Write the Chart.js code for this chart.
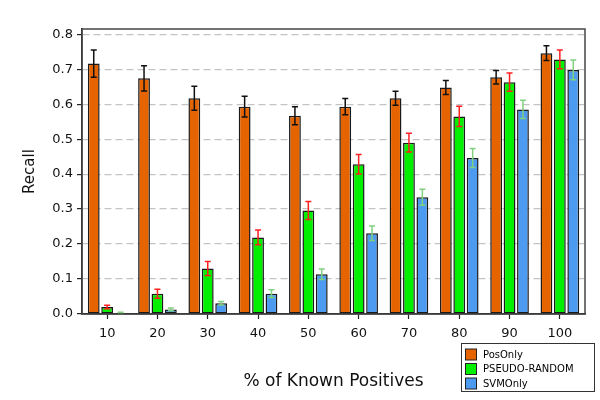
<!DOCTYPE html>
<html><head><meta charset="utf-8">
<script src="https://cdn.jsdelivr.net/npm/chart.js@4"></script>
<style>html,body{margin:0;padding:0;background:#fff}</style>
</head><body>
<canvas id="c" width="600" height="400"></canvas>
<script>
const categories = ['10','20','30','40','50','60','70','80','90','100'];
const posOnly      = [0.716,0.674,0.617,0.593,0.567,0.593,0.617,0.648,0.677,0.746];
const posOnlyErr   = [0.039,0.036,0.034,0.030,0.026,0.023,0.020,0.020,0.019,0.021];
const pseudoRandom = [0.020,0.058,0.130,0.219,0.296,0.428,0.490,0.565,0.663,0.728];
const pseudoErr    = [0.005,0.013,0.020,0.021,0.026,0.028,0.027,0.029,0.026,0.027];
const svmOnly      = [0.003,0.013,0.031,0.058,0.114,0.231,0.334,0.446,0.585,0.698];
const svmErr       = [0.002,0.004,0.005,0.011,0.015,0.021,0.023,0.027,0.026,0.028];
const seriesNames  = ['PosOnly','PSEUDO-RANDOM','SVMOnly'];
const yTicks       = [0,0.1,0.2,0.3,0.4,0.5,0.6,0.7,0.8];

const FONT = '"DejaVu Sans", Verdana, sans-serif';

const errorBars = {
  id:'errorBars',
  afterDatasetsDraw(chart){
    const c = chart.ctx, ys = chart.scales.y;
    chart.data.datasets.forEach((ds,di)=>{
      const meta = chart.getDatasetMeta(di);
      c.save();
      c.strokeStyle = ds.errColor; c.lineWidth = 1.5;
      meta.data.forEach((bar,i)=>{
        const v = ds.data[i], e = ds.err[i];
        const y1 = ys.getPixelForValue(v+e), y2 = ys.getPixelForValue(Math.max(0,v-e));
        const x = bar.x, hw = 3;
        c.beginPath();
        c.moveTo(x,y1); c.lineTo(x,y2);
        c.moveTo(x-hw,y1); c.lineTo(x+hw,y1);
        c.moveTo(x-hw,y2); c.lineTo(x+hw,y2);
        c.stroke();
      });
      c.restore();
    });
  }
};

const frame = {
  id:'frame',
  afterDraw(chart){
    const {left,right,top,bottom} = chart.chartArea, c = chart.ctx;
    c.save(); c.strokeStyle = '#444'; c.lineWidth = 1.5;
    c.strokeRect(left,top,right-left,bottom-top);
    c.restore();
    // legend
    const x=461,y=343,w=133,h=48;
    c.save();
    c.fillStyle='#fff'; c.fillRect(x,y,w,h);
    c.strokeStyle='#333'; c.lineWidth=1; c.strokeRect(x+0.5,y+0.5,w,h);
    c.font='10px '+FONT; c.textBaseline='middle';
    chart.data.datasets.forEach((ds,i)=>{
      const cy = 354.5 + i*14.5;
      c.fillStyle = ds.backgroundColor; c.fillRect(465.5,cy-5.5,11,11);
      c.strokeStyle = '#222'; c.strokeRect(465.5,cy-5.5,11,11);
      c.fillStyle = '#000'; c.fillText(ds.label,483,cy+0.5);
    });
    c.restore();
  }
};

const common = {borderColor:'#1a1a1a', borderWidth:1.5, borderSkipped:false, categoryPercentage:0.8, barPercentage:0.88};

new Chart(document.getElementById('c'), {
  type:'bar',
  data:{
    labels:categories,
    datasets:[
      Object.assign({label:seriesNames[0], data:posOnly, err:posOnlyErr, backgroundColor:'#e66400', errColor:'#111'}, common),
      Object.assign({label:seriesNames[1], data:pseudoRandom, err:pseudoErr, backgroundColor:'#00f000', errColor:'#ff2020'}, common),
      Object.assign({label:seriesNames[2], data:svmOnly, err:svmErr, backgroundColor:'#4d9bf0', errColor:'#80d080'}, common)
    ]
  },
  options:{
    responsive:false, animation:false,
    layout:{padding:{top:29,right:15,bottom:0,left:0}},
    plugins:{legend:{display:false}, tooltip:{enabled:false}},
    scales:{
      x:{
        afterFit(s){ s.height = 86; },
        grid:{offset:false, drawOnChartArea:false, drawTicks:true, tickLength:5, tickColor:'#222', tickWidth:1.2},
        border:{display:true, color:'#222', width:1.5},
        ticks:{font:{family:FONT,size:13}, color:'#111', padding:7},
        title:{display:true, text:'% of Known Positives', font:{family:FONT,size:17}, color:'#111', padding:{top:0,bottom:8}}
      },
      y:{
        min:0, max:0.815,
        afterFit(s){ s.width = 82; },
        afterBuildTicks(s){ s.ticks = yTicks.map(v=>({value:v})); },
        grid:{color:(ctx)=> (ctx.tick && ctx.tick.value===0) ? 'rgba(0,0,0,0)' : '#c4c4c4', lineWidth:1.2, tickLength:5, tickColor:'#222', tickWidth:1.2},
        border:{display:true, color:'#222', width:1.5, dash:[7,4]},
        ticks:{font:{family:FONT,size:13}, color:'#111', padding:4, callback:(v)=>Number(v).toFixed(1)},
        title:{display:true, text:'Recall', font:{family:FONT,size:15}, color:'#111', padding:{top:21,bottom:0}}
      }
    }
  },
  plugins:[errorBars, frame]
});
</script>
</body></html>
